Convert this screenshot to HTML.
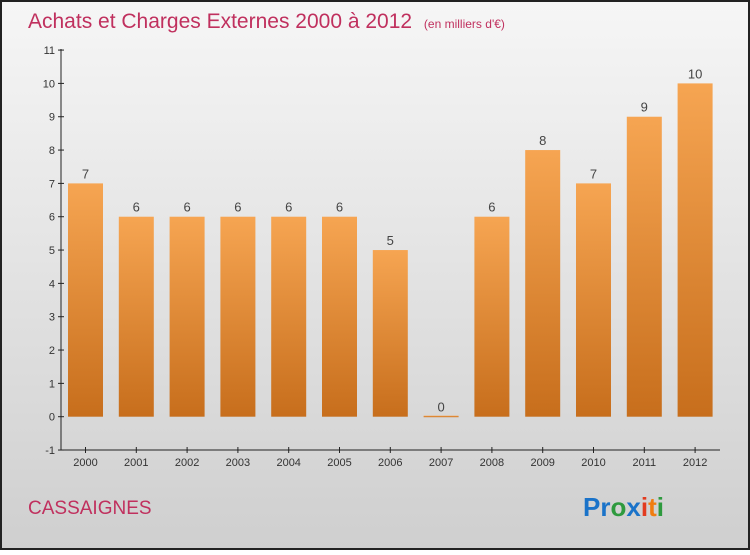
<!DOCTYPE html>
<html><head><meta charset="utf-8"><style>
html,body{margin:0;padding:0}
body{width:750px;height:550px;overflow:hidden;font-family:"Liberation Sans",sans-serif}
</style></head><body>
<svg id="chart" width="750" height="550" xmlns="http://www.w3.org/2000/svg">
<defs>
<linearGradient id="bg" x1="0" y1="0" x2="0" y2="1"><stop offset="0" stop-color="#f6f6f6"/><stop offset="1" stop-color="#cfcfcf"/></linearGradient>
<linearGradient id="bar" x1="0" y1="0" x2="0" y2="1"><stop offset="0" stop-color="#f6a552"/><stop offset="1" stop-color="#c76e1c"/></linearGradient>
</defs>
<rect x="1" y="1" width="748" height="548" fill="url(#bg)" stroke="#222" stroke-width="2"/>
<text x="28" y="28" font-size="21" fill="#c0305e">Achats et Charges Externes 2000 à 2012 <tspan font-size="12" dx="6">(en milliers d'€)</tspan></text>
<g id="axes"></g>
<g id="bars"></g>
<text x="28" y="514" font-size="19" fill="#c0305e">CASSAIGNES</text>
<g font-size="26" font-weight="bold">
<text x="583" y="516"><tspan fill="#1a73c9">Pr</tspan><tspan fill="#2e9a3e">o</tspan><tspan fill="#1a73c9">x</tspan><tspan fill="#e23b1f">i</tspan><tspan fill="#f07d10">t</tspan><tspan fill="#2e9a3e">i</tspan></text>
</g>
</svg>
<script>
const categories=["2000","2001","2002","2003","2004","2005","2006","2007","2008","2009","2010","2011","2012"];
const values=[7,6,6,6,6,6,5,0,6,8,7,9,10];
const yTicks=[-1,0,1,2,3,4,5,6,7,8,9,10,11];
const NS="http://www.w3.org/2000/svg";
const y=v=>416.7-v*33.33;
const x=i=>85.5+i*50.8;
function mk(t,a,p){const e=document.createElementNS(NS,t);for(const k in a)e.setAttribute(k,a[k]);p.appendChild(e);return e;}
const ax=document.getElementById('axes'),bg=document.getElementById('bars');
let l=mk('line',{x1:61,y1:49,x2:61,y2:450,stroke:'#222'},ax);


l=mk('line',{x1:61,y1:450,x2:720,y2:450,stroke:'#222'},ax);


yTicks.forEach(v=>{
 mk('line',{x1:58,x2:64,y1:y(v),y2:y(v),stroke:'#222'},ax);
 const t=mk('text',{x:55,y:y(v)+4,'text-anchor':'end','font-size':11,fill:'#333'},ax);
 t.textContent=v;
 
 
});
categories.forEach((c,i)=>{
 mk('line',{x1:x(i),x2:x(i),y1:447,y2:453,stroke:'#222'},ax);
 const t=mk('text',{x:x(i),y:466,'text-anchor':'middle','font-size':11,fill:'#333'},ax);
 t.textContent=c;
 
 
 const v=values[i];
 const top=y(v),h=Math.max(y(0)-top,1.5);
 const r=mk('rect',{x:x(i)-17.5,y:v>0?top:y(0)-1,width:35,height:h,fill:'url(#bar)'},bg);
 
 
 const lb=mk('text',{x:x(i),y:(v>0?top:y(0))-5,'text-anchor':'middle','font-size':13,fill:'#444'},bg);
 lb.textContent=v;
 
 
});
</script>
</body></html>
